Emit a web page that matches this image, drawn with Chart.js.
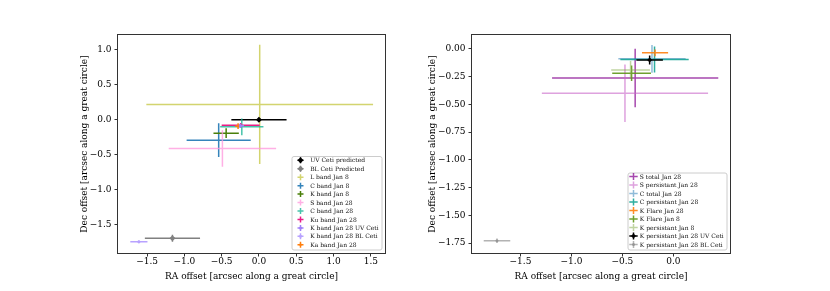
<!DOCTYPE html>
<html>
<head>
<meta charset="utf-8">
<script src="https://cdn.jsdelivr.net/npm/chart.js@4.4.0/dist/chart.umd.min.js"></script>
<style>
  html, body { margin: 0; padding: 0; background: #fff; }
  #wrap { position: relative; width: 830px; height: 291px; }
  .panel { position: absolute; top: 0; }
  #left-chart { left: 0; }
  #right-chart { left: 415px; }
</style>
</head>
<body>
<div id="wrap">
  <canvas class="panel" id="left-chart" width="415" height="291"></canvas>
  <canvas class="panel" id="right-chart" width="415" height="291"></canvas>
</div>
<script>
// Left panel: predicted positions and band fits
var leftLabels = ['UV Ceti predicted', 'BL Ceti Predicted', 'L band Jan 8', 'C band Jan 8', 'K band Jan 8',
  'S band Jan 28', 'C band Jan 28', 'Ku band Jan 28', 'K band Jan 28 UV Ceti', 'K band Jan 28 BL Ceti', 'Ka band Jan 28'];
var leftRA = [0.0, -1.16, 0.01, -0.54, -0.44, -0.49, -0.23, -0.245, -0.25, -1.61, -0.28];
var leftDec = [0.0, -1.69, 0.22, -0.29, -0.19, -0.41, -0.10, -0.076, -0.085, -1.74, -0.09];
var leftRAErr = [0.37, 0.37, 1.52, 0.43, 0.17, 0.72, 0.29, 0.255, 0.05, 0.115, 0.04];
var leftDecErr = [0.03, 0.05, 0.85, 0.24, 0.07, 0.26, 0.12, 0.03, 0.03, 0.02, 0.04];
var leftXTicks = [-1.5, -1.0, -0.5, 0.0, 0.5, 1.0, 1.5];
var leftYTicks = [-1.5, -1.0, -0.5, 0.0, 0.5, 1.0];

// Right panel: total / persistant / flare fits
var rightLabels = ['S total Jan 28', 'S persistant Jan 28', 'C total Jan 28', 'C persistant Jan 28', 'K Flare Jan 28',
  'K Flare Jan 8', 'K persistant Jan 8', 'K persistant Jan 28 UV Ceti', 'K persistant Jan 28 BL Ceti'];
var rightRA = [-0.375, -0.475, -0.21, -0.185, -0.18, -0.41, -0.42, -0.233, -1.73];
var rightDec = [-0.263, -0.40, -0.09, -0.095, -0.036, -0.22, -0.19, -0.10, -1.73];
var rightRAErr = [0.815, 0.815, 0.33, 0.335, 0.128, 0.19, 0.19, 0.13, 0.13];
var rightDecErr = [0.263, 0.26, 0.125, 0.117, 0.03, 0.07, 0.08, 0.04, 0.02];
var rightXTicks = [-1.5, -1.0, -0.5, 0.0];
var rightYTicks = [-1.75, -1.5, -1.25, -1.0, -0.75, -0.5, -0.25, 0.0];

// styles (colour, marker, marker size)
var leftColors = ['#000000', '#808080', 'rgba(188,189,34,0.65)', 'rgba(31,119,180,0.9)', '#4a7f0a',
  'rgba(255,150,220,0.75)', 'rgba(26,180,150,0.8)', '#ea1c86', '#a080f8', '#b8a2ff', '#ff7f0e'];
var leftMarkers = ['rectRot', 'rectRot', 'circle', 'circle', 'circle', 'circle', 'circle', 'circle', 'circle', 'circle', 'circle'];
var leftMarkerSize = [3, 3, 0, 0, 0, 0, 0, 0, 1.5, 1.5, 1.2];

var rightColors = ['rgba(150,40,160,0.85)', 'rgba(200,100,200,0.6)', 'rgba(31,119,180,0.5)', 'rgba(23,165,150,0.9)',
  'rgba(255,127,14,0.9)', 'rgba(95,150,25,0.9)', 'rgba(130,170,70,0.5)', '#000000', 'rgba(128,128,128,0.6)'];
var rightMarkers = ['circle', 'circle', 'circle', 'circle', 'circle', 'circle', 'circle', 'rectRot', 'circle'];
var rightMarkerSize = [0, 0, 0, 0, 0, 0, 0, 2.5, 1.5];

var serif = "'DejaVu Serif', serif";

function fmt(v, dec) {
  return v.toFixed(dec).replace('-', '\u2212');
}

// error bars drawn from each dataset's errors through the chart scales
var errorBarPlugin = {
  id: 'errorBars',
  beforeDatasetsDraw: function (chart) {
    var ctx = chart.ctx;
    var xs = chart.scales.x, ys = chart.scales.y, area = chart.chartArea;
    ctx.save();
    ctx.beginPath();
    ctx.rect(area.left, area.top, area.right - area.left, area.bottom - area.top);
    ctx.clip();
    ctx.lineWidth = 1.5;
    chart.data.datasets.forEach(function (ds) {
      var p = ds.data[0];
      ctx.strokeStyle = ds.borderColor;
      ctx.beginPath();
      ctx.moveTo(xs.getPixelForValue(p.x - ds.xErr), ys.getPixelForValue(p.y));
      ctx.lineTo(xs.getPixelForValue(p.x + ds.xErr), ys.getPixelForValue(p.y));
      ctx.moveTo(xs.getPixelForValue(p.x), ys.getPixelForValue(p.y - ds.yErr));
      ctx.lineTo(xs.getPixelForValue(p.x), ys.getPixelForValue(p.y + ds.yErr));
      ctx.stroke();
    });
    ctx.restore();
  }
};

// axes frame + legend box in the lower right corner
var frameLegendPlugin = {
  id: 'frameLegend',
  afterDraw: function (chart, args, opts) {
    var ctx = chart.ctx, a = chart.chartArea;
    ctx.save();
    ctx.strokeStyle = '#333';
    ctx.lineWidth = 1;
    ctx.strokeRect(Math.round(a.left) - 0.5, Math.round(a.top) - 0.5,
      Math.round(a.right - a.left) + 1, Math.round(a.bottom - a.top) + 1);

    var sets = chart.data.datasets;
    var h = opts.padTop + opts.rowH * (sets.length - 1) + opts.padBottom;
    var right = a.right - opts.inset, bottom = a.bottom - opts.inset;
    var left = right - opts.width, top = bottom - h;
    ctx.fillStyle = 'rgba(255,255,255,0.85)';
    ctx.strokeStyle = '#cccccc';
    ctx.beginPath();
    ctx.roundRect(left + 0.5, top + 0.5, opts.width, h, 2);
    ctx.fill();
    ctx.stroke();

    ctx.font = opts.fontSize + 'px ' + serif;
    ctx.textBaseline = 'middle';
    ctx.textAlign = 'left';
    sets.forEach(function (ds, i) {
      var cy = top + opts.padTop + i * opts.rowH;
      var cx = left + opts.handleX;
      ctx.strokeStyle = ds.borderColor;
      ctx.lineWidth = 1.5;
      ctx.beginPath();
      ctx.moveTo(cx - opts.handleW, cy);
      ctx.lineTo(cx + opts.handleW, cy);
      ctx.moveTo(cx, cy - opts.handleH);
      ctx.lineTo(cx, cy + opts.handleH);
      ctx.stroke();
      if (ds.pointRadius > 0) {
        ctx.fillStyle = ds.borderColor;
        ctx.beginPath();
        if (ds.pointStyle === 'rectRot') {
          var r = ds.pointRadius;
          ctx.moveTo(cx, cy - r); ctx.lineTo(cx + r, cy); ctx.lineTo(cx, cy + r); ctx.lineTo(cx - r, cy);
        } else {
          ctx.arc(cx, cy, ds.pointRadius, 0, Math.PI * 2);
        }
        ctx.fill();
      }
      ctx.fillStyle = '#111';
      ctx.fillText(ds.label, left + opts.textX, cy + 0.5);
    });
    ctx.restore();
  }
};

function buildDatasets(labels, ra, dec, raErr, decErr, colors, markers, sizes) {
  return labels.map(function (name, i) {
    return {
      label: name,
      data: [{ x: ra[i], y: dec[i] }],
      xErr: raErr[i],
      yErr: decErr[i],
      borderColor: colors[i],
      backgroundColor: colors[i],
      pointStyle: markers[i],
      pointRadius: sizes[i],
      pointBorderWidth: 0
    };
  });
}

function axis(min, max, tickValues, dec, title, isY, fitSize) {
  return {
    type: 'linear',
    min: min,
    max: max,
    afterBuildTicks: function (scale) {
      scale.ticks = tickValues.map(function (v) { return { value: v }; });
    },
    afterFit: function (scale) {
      if (isY) scale.width = fitSize; else scale.height = fitSize;
    },
    grid: { display: true, drawOnChartArea: false, drawTicks: true, tickLength: 3.5, tickColor: '#333', tickWidth: 1 },
    border: { display: false },
    ticks: {
      color: '#000',
      font: { family: serif, size: 9 },
      padding: isY ? 3 : 0,
      maxRotation: 0,
      autoSkip: false,
      callback: function (v) { return fmt(v, dec); }
    },
    title: { display: true, text: title, color: '#000', font: { family: serif, size: 9 }, padding: { top: 4, bottom: 0 } }
  };
}

function createPanel(canvasId, datasets, xr, yr, xTicks, yTicks, dec, pad, yWidth, xHeight, legendOpts) {
  return new Chart(document.getElementById(canvasId), {
    type: 'scatter',
    data: { datasets: datasets },
    options: {
      responsive: false,
      animation: false,
      events: [],
      layout: { padding: pad },
      scales: {
        x: axis(xr[0], xr[1], xTicks, 1, 'RA offset [arcsec along a great circle]', false, xHeight),
        y: axis(yr[0], yr[1], yTicks, dec, 'Dec offset [arcsec along a great circle]', true, yWidth)
      },
      plugins: {
        legend: { display: false },
        tooltip: { enabled: false },
        frameLegend: legendOpts
      }
    },
    plugins: [errorBarPlugin, frameLegendPlugin]
  });
}

createPanel('left-chart',
  buildDatasets(leftLabels, leftRA, leftDec, leftRAErr, leftDecErr, leftColors, leftMarkers, leftMarkerSize),
  [-1.89, 1.69], [-1.90, 1.21], leftXTicks, leftYTicks, 1,
  { left: 75, top: 35, right: 30, bottom: 8.6 }, 43, 29.4,
  { inset: 3.5, width: 90, padTop: 4.3, padBottom: 4.7, rowH: 8.45, handleX: 9, handleW: 3, handleH: 3, textX: 18.7, fontSize: 6 });

createPanel('right-chart',
  buildDatasets(rightLabels, rightRA, rightDec, rightRAErr, rightDecErr, rightColors, rightMarkers, rightMarkerSize),
  [-1.975, 0.555], [-1.84, 0.125], rightXTicks, rightYTicks, 2,
  { left: 8, top: 35, right: 100, bottom: 8.6 }, 49, 29.4,
  { inset: 3.5, width: 99, padTop: 4, padBottom: 5, rowH: 8.5, handleX: 6, handleW: 4.2, handleH: 3.5, textX: 12.3, fontSize: 6 });
</script>
</body>
</html>
